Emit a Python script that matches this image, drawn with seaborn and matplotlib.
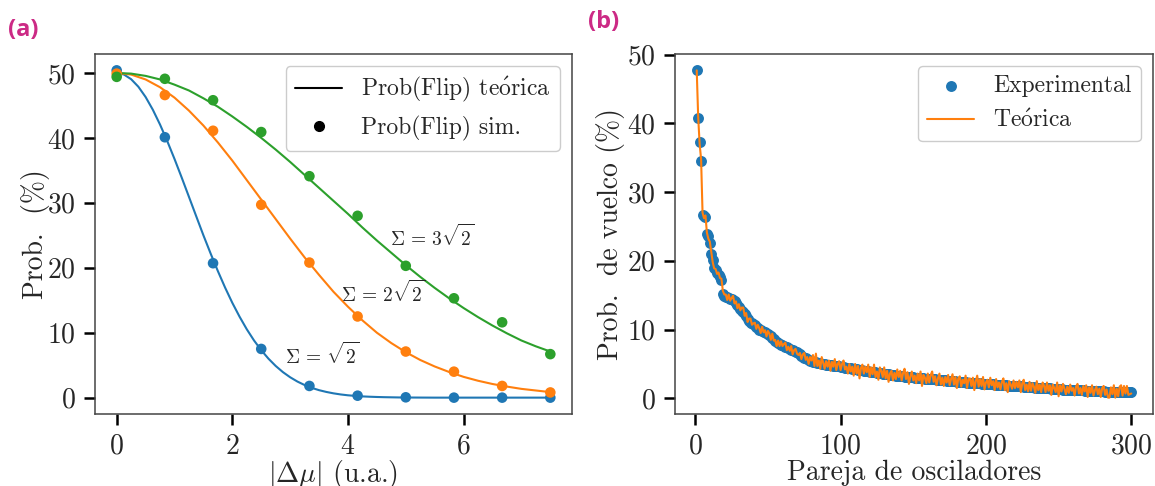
import matplotlib
matplotlib.use("Agg")
import matplotlib.pyplot as plt
from matplotlib.lines import Line2D
import numpy as np
import pandas as pd
import seaborn as sns

# ---------------- data: panel (a) ----------------
sim_x = [0.0, 0.8333, 1.6667, 2.5, 3.3333, 4.1667, 5.0, 5.8333, 6.6667, 7.5]
sim_s1 = [50.4, 40.1, 20.7, 7.5, 1.8, 0.3, 0.05, 0.0, 0.0, 0.0]
sim_s2 = [49.9, 46.6, 41.1, 29.7, 20.8, 12.5, 7.1, 4.0, 1.8, 0.8]
sim_s3 = [49.4, 49.1, 45.8, 40.9, 34.1, 28.0, 20.3, 15.3, 11.6, 6.7]

th_x1 = [0.0, 0.125, 0.25, 0.375, 0.5, 0.625, 0.75, 0.875, 1.0, 1.125, 1.25, 1.375,
         1.5, 1.625, 1.75, 1.875, 2.0, 2.125, 2.25, 2.375, 2.5, 2.625, 2.75, 2.875,
         3.0, 3.125, 3.25, 3.375, 3.5, 3.625, 3.75, 3.875, 4.0, 4.125, 4.25, 4.375,
         4.5, 4.625, 4.75, 4.875, 5.0, 5.25, 5.5, 5.75, 6.0, 6.25, 6.5, 6.75, 7.0,
         7.25, 7.5]
th_s1 = [50.0, 49.76, 49.04, 47.88, 46.30, 44.34, 42.05, 39.50, 36.76, 33.88, 30.92,
         27.95, 25.0, 22.19, 19.49, 16.95, 14.60, 12.47, 10.53, 8.81, 7.31, 6.00, 4.88,
         3.93, 3.14, 2.48, 1.94, 1.50, 1.15, 0.88, 0.66, 0.49, 0.36, 0.27, 0.19, 0.14,
         0.10, 0.07, 0.05, 0.03, 0.02, 0.01, 0.0, 0.0, 0.0, 0.0, 0.0, 0.0, 0.0, 0.0, 0.0]

th_x = [0.0, 0.25, 0.5, 0.75, 1.0, 1.25, 1.5, 1.75, 2.0, 2.25, 2.5, 2.75, 3.0, 3.25,
        3.5, 3.75, 4.0, 4.25, 4.5, 4.75, 5.0, 5.25, 5.5, 5.75, 6.0, 6.25, 6.5, 6.75,
        7.0, 7.25, 7.5]
th_s2 = [50.0, 49.75, 49.0, 47.8, 46.2, 44.2, 41.9, 39.3, 36.5, 33.5, 30.5, 27.5, 24.5,
         21.6, 18.9, 16.3, 14.0, 11.9, 10.0, 8.4, 7.0, 5.8, 4.8, 3.95, 3.2, 2.6, 2.1,
         1.7, 1.35, 1.1, 0.85]
th_s3 = [50.0, 49.9, 49.55, 49.0, 48.2, 47.3, 46.1, 44.8, 43.3, 41.7, 40.0, 38.2, 36.3,
         34.3, 32.3, 30.3, 28.3, 26.2, 24.2, 22.3, 20.4, 18.6, 16.9, 15.3, 13.8, 12.4,
         11.1, 9.9, 8.8, 7.9, 7.1]

sigma_labels = [r"$\Sigma\,=\,\sqrt{2}$", r"$\Sigma\,=\,2\sqrt{2}$", r"$\Sigma\,=\,3\sqrt{2}$"]

# ---------------- data: panel (b) ----------------
pair_x = list(range(1, 301))
exp_prob = [
    47.7, 40.7, 37.3, 34.5, 26.7, 26.5, 26.3, 23.9, 23.6, 22.6,
    21.0, 20.1, 18.9, 18.6, 18.3, 18.0, 17.7, 17.2, 15.2, 14.9,
    14.8, 14.7, 14.6, 14.5, 14.4, 14.3, 14.1, 13.9, 13.6, 13.3,
    13.0, 12.7, 12.5, 12.3, 12.0, 11.6, 11.3, 11.0, 10.9, 10.8,
    10.6, 10.4, 10.2, 10.0, 9.9, 9.8, 9.7, 9.6, 9.5, 9.4,
    9.2, 9.0, 8.8, 8.6, 8.4, 8.2, 8.0, 7.9, 7.8, 7.7,
    7.6, 7.5, 7.4, 7.3, 7.2, 7.1, 7.0, 6.9, 6.8, 6.7,
    6.6, 6.4, 6.2, 6.0, 5.9, 5.8, 5.7, 5.6, 5.5, 5.4,
    5.35, 5.3, 5.25, 5.2, 5.15, 5.1, 5.05, 5.0, 4.95, 4.9,
    4.87, 4.84, 4.81, 4.78, 4.75, 4.72, 4.69, 4.66, 4.63, 4.6,
    4.55, 4.5, 4.47, 4.44, 4.4, 4.37, 4.34, 4.3, 4.27, 4.24,
    4.2, 4.17, 4.14, 4.1, 4.07, 4.04, 4.0, 3.97, 3.94, 3.9,
    3.87, 3.84, 3.8, 3.77, 3.74, 3.7, 3.67, 3.64, 3.6, 3.57,
    3.54, 3.5, 3.47, 3.44, 3.4, 3.37, 3.34, 3.3, 3.27, 3.24,
    3.22, 3.2, 3.18, 3.16, 3.14, 3.12, 3.1, 3.08, 3.06, 3.04,
    3.02, 3.0, 2.98, 2.96, 2.94, 2.92, 2.9, 2.88, 2.86, 2.84,
    2.82, 2.8, 2.78, 2.76, 2.74, 2.72, 2.7, 2.68, 2.66, 2.64,
    2.62, 2.6, 2.58, 2.56, 2.54, 2.52, 2.5, 2.48, 2.46, 2.44,
    2.42, 2.4, 2.38, 2.36, 2.34, 2.32, 2.3, 2.28, 2.26, 2.24,
    2.22, 2.2, 2.19, 2.18, 2.17, 2.16, 2.15, 2.14, 2.13, 2.12,
    2.1, 2.08, 2.06, 2.04, 2.02, 2.0, 1.98, 1.96, 1.94, 1.92,
    1.9, 1.89, 1.88, 1.87, 1.86, 1.85, 1.84, 1.83, 1.82, 1.81,
    1.8, 1.78, 1.76, 1.74, 1.72, 1.7, 1.68, 1.66, 1.64, 1.62,
    1.6, 1.59, 1.58, 1.57, 1.56, 1.55, 1.54, 1.53, 1.52, 1.51,
    1.5, 1.48, 1.46, 1.44, 1.42, 1.4, 1.38, 1.36, 1.34, 1.32,
    1.3, 1.29, 1.28, 1.27, 1.26, 1.25, 1.24, 1.23, 1.22, 1.21,
    1.2, 1.19, 1.18, 1.17, 1.16, 1.15, 1.14, 1.13, 1.12, 1.11,
    1.1, 1.09, 1.08, 1.07, 1.06, 1.05, 1.04, 1.03, 1.02, 1.01,
    1.0, 0.99, 0.98, 0.97, 0.96, 0.95, 0.94, 0.93, 0.92, 0.91,
    0.9, 0.9, 0.89, 0.89, 0.88, 0.88, 0.87, 0.87, 0.86, 0.86,
]
theo_prob = [
    47.7, 40.9, 37.0, 34.8, 27.0, 26.2, 26.6, 24.1, 23.2, 22.8,
    21.3, 19.8, 18.9, 18.8, 18.1, 18.3, 17.5, 17.4, 15.6, 15.1,
    15.1, 14.3, 15.1, 14.2, 14.6, 14.9, 13.8, 14.1, 13.1, 13.7,
    12.8, 13.2, 13.2, 12.0, 12.4, 11.1, 11.6, 11.6, 10.7, 10.9,
    11.0, 10.1, 10.7, 10.2, 9.5, 10.4, 9.6, 9.9, 9.0, 9.8,
    9.4, 8.5, 9.4, 8.4, 8.5, 7.6, 8.4, 7.6, 8.3, 7.6,
    7.9, 8.1, 7.0, 7.5, 6.9, 7.6, 6.4, 7.0, 7.2, 6.5,
    6.3, 6.6, 5.7, 6.4, 6.6, 5.6, 6.0, 5.0, 6.0, 5.5,
    6.3, 4.7, 6.5, 4.7, 5.5, 4.3, 6.0, 5.2, 4.3, 5.4,
    4.6, 5.5, 4.0, 5.3, 4.6, 5.7, 4.1, 5.0, 5.4, 4.1,
    5.0, 5.5, 4.2, 4.6, 3.6, 5.0, 3.9, 4.6, 3.3, 5.0,
    3.6, 4.7, 2.9, 4.4, 4.9, 3.6, 4.6, 3.8, 4.9, 3.1,
    4.5, 3.5, 4.9, 3.1, 3.9, 2.7, 4.5, 4.0, 3.1, 4.5,
    2.9, 4.0, 2.4, 3.6, 4.0, 2.6, 3.7, 2.8, 4.2, 3.1,
    4.0, 2.6, 3.7, 4.3, 2.8, 3.8, 2.1, 3.2, 3.9, 2.6,
    3.3, 2.2, 3.6, 2.6, 3.9, 1.8, 3.4, 3.0, 2.2, 3.6,
    2.3, 3.4, 3.9, 2.4, 3.2, 1.9, 2.9, 3.6, 2.0, 3.0,
    1.8, 3.1, 2.3, 3.4, 1.9, 2.8, 3.5, 2.0, 3.1, 1.5,
    2.9, 3.2, 1.7, 2.7, 2.2, 3.3, 1.5, 2.8, 2.9, 1.8,
    3.0, 1.2, 2.5, 3.3, 1.7, 2.8, 1.8, 3.1, 1.3, 2.3,
    2.7, 1.6, 3.0, 1.9, 2.5, 1.2, 2.8, 1.6, 2.3, 1.3,
    2.4, 2.9, 1.2, 2.2, 0.9, 2.5, 2.0, 1.4, 2.6, 1.5,
    2.4, 1.6, 2.6, 0.9, 2.2, 2.7, 1.2, 2.0, 1.0, 2.4,
    1.1, 2.2, 1.7, 0.8, 2.5, 1.2, 2.0, 0.9, 2.3, 1.8,
    0.9, 2.3, 1.1, 1.9, 0.5, 2.0, 1.5, 0.9, 2.3, 0.3,
    1.9, 1.0, 2.1, 1.4, 0.6, 1.7, 0.8, 2.0, 1.1, 1.5,
    0.4, 1.7, 2.1, 0.7, 1.5, 0.5, 1.8, 1.0, 1.9, 0.2,
    1.6, 0.8, 1.9, 0.4, 1.2, 1.7, 0.6, 1.4, 0.2, 1.5,
    1.8, 0.5, 1.3, 0.1, 0.1, 1.6, 0.6, 1.9, 0.1, 1.4,
    0.3, 1.7, 1.9, 0.4, 1.8, 0.7, 1.8, 0.5, 0.6, 0.7,
]

# ---------------- style ----------------
sns.set_style("ticks")
plt.rcParams["font.family"] = ["cmr10"]
plt.rcParams["mathtext.fontset"] = "cm"
plt.rcParams["axes.formatter.use_mathtext"] = True
plt.rcParams["axes.unicode_minus"] = False

blue, orange, green = "#1f77b4", "#ff7f0e", "#2ca02c"
pal = [blue, orange, green]

fig = plt.figure(figsize=(11.55, 4.86), dpi=100)
axA = fig.add_axes([95 / 1155, 72 / 486, 477 / 1155, 360 / 486])
axB = fig.add_axes([675 / 1155, 72 / 486, 478 / 1155, 360 / 486])

# ---------------- panel (a) ----------------
th_df = pd.DataFrame({"x": th_x1 + th_x + th_x, "y": th_s1 + th_s2 + th_s3,
                      "s": ["1"] * len(th_x1) + ["2"] * len(th_x) + ["3"] * len(th_x)})
sim_df = pd.DataFrame({"x": sim_x * 3, "y": sim_s1 + sim_s2 + sim_s3,
                       "s": ["1"] * len(sim_x) + ["2"] * len(sim_x) + ["3"] * len(sim_x)})
sns.lineplot(data=th_df, x="x", y="y", hue="s", palette=pal, lw=1.5, ax=axA,
             legend=False, sort=True)
sns.scatterplot(data=sim_df, x="x", y="y", hue="s", palette=pal, s=58, linewidth=0,
                ax=axA, legend=False, zorder=3)

axA.text(5.45, 24.8, sigma_labels[2], fontsize=14, ha="center", va="center")
axA.text(4.6, 16.2, sigma_labels[1], fontsize=14, ha="center", va="center")
axA.text(3.56, 6.6, sigma_labels[0], fontsize=14, ha="center", va="center")

handlesA = [Line2D([], [], color="black", lw=1.5),
            Line2D([], [], color="black", marker="o", ls="none", ms=7)]
axA.legend(handlesA, [r"Prob(Flip) te$\mathrm{\acute{o}}$rica", "Prob(Flip) sim."],
           loc="upper right", fontsize=17, frameon=True, fancybox=True,
           edgecolor="#cccccc", framealpha=1.0, handlelength=2.0,
           borderpad=0.4, labelspacing=0.5)
axA.set_xlabel(r"$|\Delta\mu|$ (u.a.)", fontsize=20, labelpad=-1)
axA.set_ylabel("Prob.  (%)", fontsize=20, labelpad=-2)
axA.set_xticks([0, 2, 4, 6])
axA.set_yticks([0, 10, 20, 30, 40, 50])

# ---------------- panel (b) ----------------
b_df = pd.DataFrame({"x": pair_x, "exp": exp_prob, "th": theo_prob})
sns.scatterplot(data=b_df, x="x", y="exp", color=blue, s=62, linewidth=0, ax=axB,
                label="Experimental", zorder=2)
sns.lineplot(data=b_df, x="x", y="th", color=orange, lw=1.5, ax=axB,
             label=r"Te$\mathrm{\acute{o}}$rica", zorder=3)
axB.legend(loc="upper right", fontsize=17, frameon=True, fancybox=True,
           edgecolor="#cccccc", framealpha=1.0, handlelength=2.0,
           borderpad=0.4, labelspacing=0.5)
axB.set_xlabel("Pareja de osciladores", fontsize=20, labelpad=0)
axB.set_ylabel("Prob.  de vuelco (%)", fontsize=20, labelpad=1)
axB.set_xticks([0, 100, 200, 300])
axB.set_yticks([0, 10, 20, 30, 40, 50])

for ax in (axA, axB):
    ax.tick_params(axis="both", direction="out", length=8, width=1.8, color="black",
                   labelsize=20, pad=6)
    for sp in ax.spines.values():
        sp.set_visible(True)
        sp.set_color("#444444")
        sp.set_linewidth(1.1)

fig.text(8 / 1155, 1 - 30 / 486, "(a)", fontsize=17, fontweight="bold",
         color="#cc2a85", family="Open Sans", va="center", ha="left")
fig.text(588 / 1155, 1 - 22 / 486, "(b)", fontsize=17, fontweight="bold",
         color="#cc2a85", family="Open Sans", va="center", ha="left")

fig.savefig("out.png", dpi=100)
